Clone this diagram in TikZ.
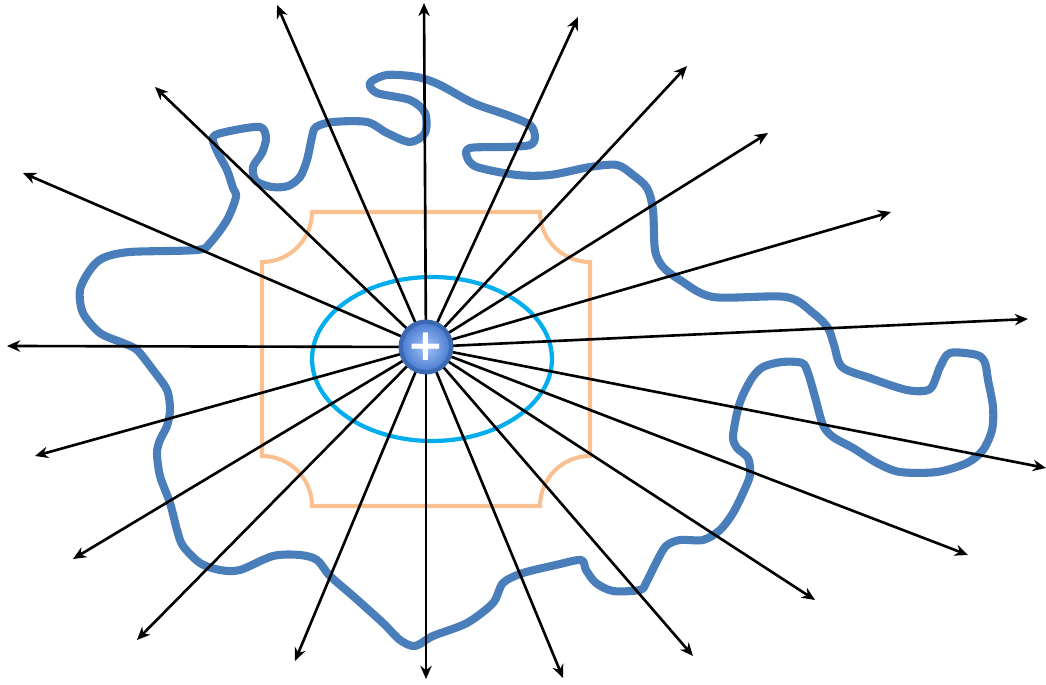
\documentclass[tikz,border=0pt]{standalone}
\usepackage{fontspec}
\newfontfamily\plusfont{DejaVu Sans}
\usetikzlibrary{arrows.meta}
\definecolor{surfaceblue}{RGB}{74,126,187}
\definecolor{ellipsecyan}{RGB}{0,174,239}
\definecolor{boxorange}{RGB}{250,192,144}
\definecolor{chargedark}{RGB}{60,106,178}
\definecolor{chargelight}{RGB}{165,196,246}
\definecolor{chargemid}{RGB}{80,128,212}
\begin{document}
\begin{tikzpicture}[x=0.02cm,y=-0.02cm,>={Stealth[length=7.5pt,width=6.5pt]},
  fieldline/.style={->,line width=1.5pt},
  surface/.style={surfaceblue,line width=4.6pt,line join=round},
  cutbox/.style={boxorange,line width=2.3pt},
  gausscurve/.style={ellipsecyan,line width=2.4pt}]
  \useasboundingbox (0,0) rectangle (1046,685);
  % box with rounded-in corners
  \draw[cutbox] (312,212) -- (540,212) arc[start angle=180,end angle=270,radius=1cm]
    -- (590,456) arc[start angle=90,end angle=180,radius=1cm]
    -- (312,506) arc[start angle=0,end angle=90,radius=1cm]
    -- (262,262) arc[start angle=-90,end angle=0,radius=1cm] -- cycle;
  \draw[gausscurve] (432,359) ellipse [x radius=2.4cm,y radius=1.64cm];
  % irregular surface
  \draw[surface] plot[smooth cycle,tension=0.5] coordinates {
    (213,137) (230,131) (260,127) (266,138) (262,153) (253,167) (256,181) (272,187)
    (288,186) (300,177) (307,160) (312,137) (316,127) (333,122) (367,122) (387,133)
    (410,142) (425,133) (425,113) (410,100) (377,93) (370,83) (387,75) (417,77)
    (440,85) (473,103) (507,115) (530,125) (535,137) (530,145) (507,147) (470,148)
    (467,157) (477,167) (517,175) (550,175) (590,167) (617,165) (633,175) (647,188)
    (653,210) (655,250) (663,267) (680,280) (713,297) (786,297) (813,313) (828,328)
    (834,345) (842,367) (870,378) (907,390) (930,389) (940,367) (950,353) (977,355)
    (985,363) (988,380) (993,407) (992,430) (983,450) (967,463) (937,472) (900,472)
    (877,463) (853,448) (833,437) (823,425) (815,397) (808,373) (802,363) (782,362)
    (763,367) (752,378) (742,397) (737,413) (733,437) (737,448) (748,458) (750,475)
    (743,493) (733,513) (720,530) (703,540) (680,540) (666,546) (656,563) (646,583)
    (640,590) (613,591) (596,583) (586,570) (581,560) (556,565) (523,573) (503,583)
    (493,603) (467,623) (433,636) (415,646) (400,640) (383,623) (353,596) (330,576)
    (317,560) (300,555) (273,556) (240,570) (220,570) (200,563) (183,546) (177,530)
    (170,503) (160,476) (157,453) (160,440) (167,426) (170,410) (167,390) (153,370)
    (137,350) (123,343) (100,333) (83,313) (80,290) (90,270) (103,258) (130,252)
    (197,250) (210,243) (227,220) (236,197) (233,188) (227,170) (218,153)};
  % field lines
  \coordinate (q) at (426,347);
  \foreach \x/\y [count=\i] in {277/5,424/3,578/17,687/66,768/133,891/212,1028/319,
      1046/468,968/555,815/600,693/656,563/678,426/679,295/661,137/640,73/559,
      35/456,7/346,23/173,155/87}
    \coordinate (tip\i) at (\x,\y);
  \foreach \i in {1,...,20}
    \draw[fieldline] (q) -- (tip\i);
  % point charge
  \fill[chargedark] (q) circle (0.55cm);
  \node[circle,inner sep=0pt,minimum size=0.76cm,inner color=chargelight,outer color=chargemid,
    text=white,font=\plusfont\bfseries\fontsize{25}{25}\selectfont] (charge) at (q) {+};
\end{tikzpicture}
\end{document}
